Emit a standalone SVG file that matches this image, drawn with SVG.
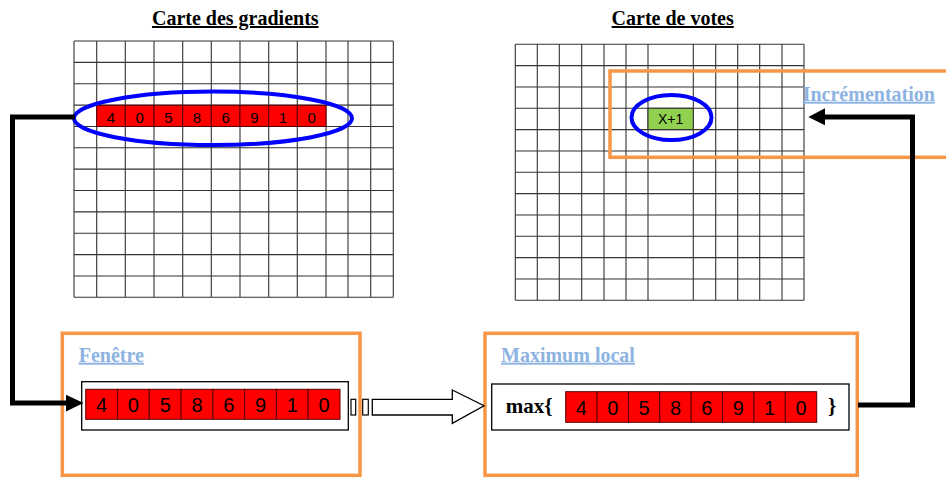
<svg xmlns="http://www.w3.org/2000/svg" width="946" height="478" viewBox="0 0 946 478">
<style>
.grid{fill:none;stroke:#333;stroke-width:1.1}
.title{font-family:"Liberation Serif",serif;font-weight:bold;font-size:20px;fill:#000;text-decoration:underline}
.label{font-family:"Liberation Serif",serif;font-weight:bold;font-size:20px;fill:#8DB3E2;text-decoration:underline}
.cell{fill:#FF0000;stroke:#5a0000;stroke-width:1}
.dig{font-family:"Liberation Sans",sans-serif;fill:#000;text-anchor:middle}
.d15{font-size:15px}
.d20{font-size:20px}
.orange{fill:none;stroke:#F79646;stroke-width:3.5}
.ell{fill:none;stroke:#0000FF;stroke-width:4}
.inner{fill:#fff;stroke:#000;stroke-width:1.3}
.conn{fill:none;stroke:#000;stroke-width:5}
</style>
<rect width="946" height="478" fill="#fff"/>

<g id="carte-gradients">
<text class="title" x="235.3" y="25" text-anchor="middle">Carte des gradients</text>
<path class="grid" d="M74,41V297.3M96.7,41V297.3M125.3,41V297.3M154,41V297.3M182.7,41V297.3M211.3,41V297.3M240,41V297.3M268.7,41V297.3M297.3,41V297.3M326,41V297.3M348,41V297.3M370.7,41V297.3M393.3,41V297.3
M74,41H393.3M74,62.36H393.3M74,83.72H393.3M74,105.08H393.3M74,126.44H393.3M74,147.8H393.3M74,169.16H393.3M74,190.52H393.3M74,211.88H393.3M74,233.24H393.3M74,254.6H393.3M74,275.96H393.3M74,297.32H393.3"/>
<g>
<rect class="cell" x="96.7" y="105.3" width="28.6" height="21.2"/>
<rect class="cell" x="125.3" y="105.3" width="28.7" height="21.2"/>
<rect class="cell" x="154" y="105.3" width="28.7" height="21.2"/>
<rect class="cell" x="182.7" y="105.3" width="28.6" height="21.2"/>
<rect class="cell" x="211.3" y="105.3" width="28.7" height="21.2"/>
<rect class="cell" x="240" y="105.3" width="28.7" height="21.2"/>
<rect class="cell" x="268.7" y="105.3" width="28.6" height="21.2"/>
<rect class="cell" x="297.3" y="105.3" width="28.7" height="21.2"/>
</g>
<g class="dig d15">
<text x="111" y="122.5">4</text>
<text x="139.65" y="122.5">0</text>
<text x="168.35" y="122.5">5</text>
<text x="197" y="122.5">8</text>
<text x="225.65" y="122.5">6</text>
<text x="254.35" y="122.5">9</text>
<text x="283" y="122.5">1</text>
<text x="311.65" y="122.5">0</text>
</g>
<ellipse class="ell" cx="213" cy="118.3" rx="139" ry="26.7"/>
</g>

<g id="carte-votes">
<text class="title" x="672.7" y="25" text-anchor="middle">Carte de votes</text>
<path class="grid" d="M515.3,44.3V300.3M537.3,44.3V300.3M559.3,44.3V300.3M581.7,44.3V300.3M604,44.3V300.3M626,44.3V300.3M648,44.3V300.3M693.3,44.3V300.3M715.7,44.3V300.3M737.7,44.3V300.3M759.7,44.3V300.3M782,44.3V300.3M804,44.3V300.3
M515.3,44.3H804M515.3,65.63H804M515.3,86.97H804M515.3,108.3H804M515.3,129.63H804M515.3,150.97H804M515.3,172.3H804M515.3,193.63H804M515.3,214.97H804M515.3,236.3H804M515.3,257.63H804M515.3,278.97H804M515.3,300.3H804"/>
<rect x="648" y="108.3" width="45.3" height="21.33" fill="#92D050" stroke="#333" stroke-width="1.1"/>
<text class="dig" x="670.6" y="123.5" font-size="14">X+1</text>
<ellipse class="ell" cx="671.5" cy="117.5" rx="40" ry="22.5"/>
</g>

<g id="incrementation">
<rect class="orange" x="610" y="71" width="360" height="86.3"/>
<text class="label" x="802.7" y="100.7">Incrémentation</text>
</g>

<g id="fenetre">
<rect class="orange" x="62.3" y="333.3" width="297.7" height="142"/>
<text class="label" x="78.7" y="361.7">Fenêtre</text>
<rect class="inner" x="81.7" y="381.7" width="266.6" height="48.3"/>
<g>
<rect class="cell" x="85.7" y="389.3" width="31.8" height="30"/>
<rect class="cell" x="117.5" y="389.3" width="31.8" height="30"/>
<rect class="cell" x="149.3" y="389.3" width="31.8" height="30"/>
<rect class="cell" x="181.1" y="389.3" width="31.8" height="30"/>
<rect class="cell" x="212.9" y="389.3" width="31.7" height="30"/>
<rect class="cell" x="244.6" y="389.3" width="31.8" height="30"/>
<rect class="cell" x="276.4" y="389.3" width="31.8" height="30"/>
<rect class="cell" x="308.2" y="389.3" width="31.8" height="30"/>
</g>
<g class="dig d20">
<text x="101.6" y="411.7">4</text>
<text x="133.4" y="411.7">0</text>
<text x="165.2" y="411.7">5</text>
<text x="197" y="411.7">8</text>
<text x="228.7" y="411.7">6</text>
<text x="260.5" y="411.7">9</text>
<text x="292.3" y="411.7">1</text>
<text x="324.1" y="411.7">0</text>
</g>
</g>

<g id="maximum-local">
<rect class="orange" x="485" y="333.3" width="372.3" height="142"/>
<text class="label" x="501" y="361.7">Maximum local</text>
<rect class="inner" x="491.7" y="384" width="357.3" height="46"/>
<text x="505.7" y="413" font-family="Liberation Serif, serif" font-weight="bold" font-size="21">max{</text>
<g>
<rect class="cell" x="565.7" y="391.7" width="31.4" height="30.6"/>
<rect class="cell" x="597.1" y="391.7" width="31.35" height="30.6"/>
<rect class="cell" x="628.45" y="391.7" width="31.35" height="30.6"/>
<rect class="cell" x="659.8" y="391.7" width="31.4" height="30.6"/>
<rect class="cell" x="691.2" y="391.7" width="31.4" height="30.6"/>
<rect class="cell" x="722.6" y="391.7" width="31.35" height="30.6"/>
<rect class="cell" x="753.95" y="391.7" width="31.35" height="30.6"/>
<rect class="cell" x="785.3" y="391.7" width="31.4" height="30.6"/>
</g>
<g class="dig d20">
<text x="581.4" y="415">4</text>
<text x="612.8" y="415">0</text>
<text x="644.1" y="415">5</text>
<text x="675.5" y="415">8</text>
<text x="706.9" y="415">6</text>
<text x="738.3" y="415">9</text>
<text x="769.6" y="415">1</text>
<text x="801" y="415">0</text>
</g>
<text x="828" y="413" font-family="Liberation Serif, serif" font-weight="bold" font-size="21">}</text>
</g>

<g id="connectors">
<path class="conn" d="M75,117H12.5V403H68"/>
<polygon points="83.5,403 66,394.8 66,411.4" fill="#000"/>
<path class="conn" d="M858,405H912.5V117H823"/>
<polygon points="808.3,117 825,108.3 825,125.3" fill="#000"/>
<rect x="351" y="399.3" width="4.7" height="15.7" fill="#fff" stroke="#000" stroke-width="1.2"/>
<rect x="362.7" y="399.3" width="5.6" height="15.7" fill="#fff" stroke="#000" stroke-width="1.2"/>
<polygon points="372.3,399.3 452.3,399.3 452.3,390 484,405.7 452.3,423.3 452.3,415 372.3,415" fill="#fff" stroke="#000" stroke-width="1.3"/>
</g>
</svg>
